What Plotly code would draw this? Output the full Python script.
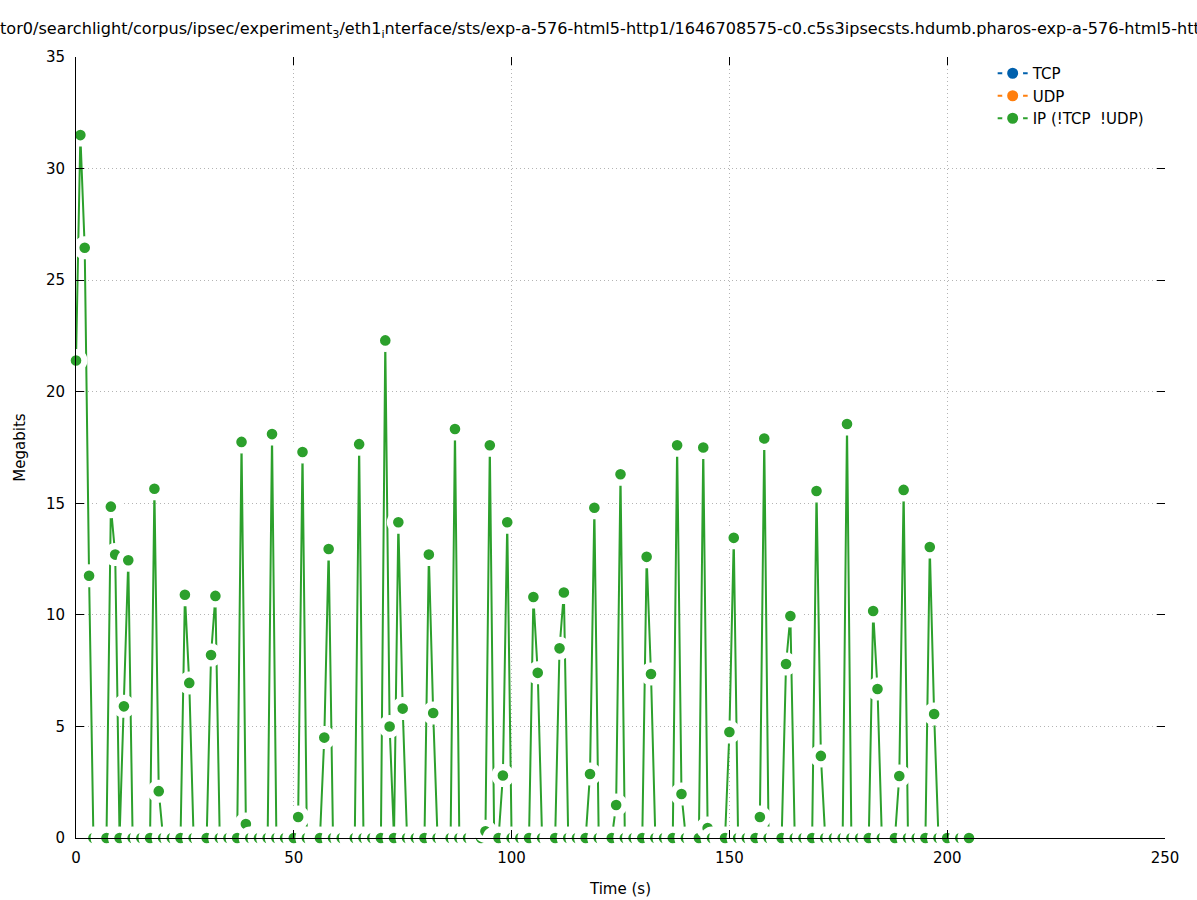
import plotly.graph_objects as go

# ---- data (time in s, IP (!TCP !UDP) traffic in Megabits) ----
time_s = [
    0, 1, 2, 3, 4, 6, 7,
    8, 9, 10, 11, 12, 13, 15, 17,
    18, 19, 20, 22, 24,
    25, 26, 27, 29, 30,
    31, 32, 33, 35, 37,
    38, 39, 40, 42, 44,
    45, 46, 48, 50,
    51, 52, 53, 55, 56,
    57, 58, 59, 61, 63, 64,
    65, 66, 68, 70,
    71, 72, 73, 74, 75, 76, 78, 80,
    81, 82, 83, 85, 86,
    87, 88, 90, 92, 93,
    94, 95, 96, 97,
    98, 99, 100, 102, 104,
    105, 106, 107, 109, 110,
    111, 112, 113, 115, 117,
    118, 119, 120, 122, 123,
    124, 125, 126, 128, 130,
    131, 132, 133, 135, 137,
    138, 139, 140, 142, 143,
    144, 145, 146, 148, 149,
    150, 151, 152, 154, 156,
    157, 158, 159, 161, 162,
    163, 164, 165, 167, 169,
    170, 171, 172, 174, 176,
    177, 178, 180, 182,
    183, 184, 185, 187, 188,
    189, 190, 191, 193, 195,
    196, 197, 198, 200, 203, 205,
]
ip_mbit = [
    21.4, 31.5, 26.45, 11.75, 0, 0, 0,
    14.85, 12.7, 0, 5.9, 12.45, 0, 0, 0,
    15.65, 2.1, 0, 0, 0,
    10.9, 6.95, 0, 0, 0,
    8.2, 10.85, 0, 0, 0,
    17.75, 0.63, 0, 0, 0,
    18.1, 0, 0, 0,
    0.94, 17.3, 0, 0, 0,
    4.5, 12.95, 0, 0, 0, 0,
    17.65, 0, 0, 0,
    22.3, 5.0, 0, 14.15, 5.8, 0, 0, 0,
    12.7, 5.6, 0, 0, 0,
    18.33, 0, 0, 0, 0,
    0.3, 17.6, 0, 0,
    2.8, 14.15, 0, 0, 0,
    10.8, 7.4, 0, 0, 0,
    8.5, 11.0, 0, 0, 0,
    2.87, 14.8, 0, 0, 0,
    1.48, 16.3, 0, 0, 0,
    12.6, 7.35, 0, 0, 0,
    17.6, 1.97, 0, 0, 0,
    17.5, 0.45, 0, 0, 0,
    4.75, 13.45, 0, 0, 0,
    0.94, 17.9, 0, 0, 0,
    7.8, 9.95, 0, 0, 0,
    15.55, 3.68, 0, 0, 0,
    18.55, 0, 0, 0,
    10.17, 6.68, 0, 0, 0,
    2.78, 15.6, 0, 0, 0,
    13.04, 5.56, 0, 0, 0, 0,
]
series_names = ["TCP", "UDP", "IP (!TCP  !UDP)"]
series_colors = ["#0060ad", "#ff7f0e", "#2ca02c"]
x_ticks = [0, 50, 100, 150, 200, 250]
y_ticks = [0, 5, 10, 15, 20, 25, 30, 35]

title_text = ("tor0/searchlight/corpus/ipsec/experiment<sub>3</sub>/eth1<sub>i</sub>nterface/sts/"
              "exp-a-576-html5-http1/1646708575-c0.c5s3ipsecsts.hdumb.pharos-exp-a-576-html5-http1.sts")

FONT = "DejaVu Sans"
FS = 15


def marker(color):
    # green dot (r~5.3px) with a wide white halo (r~11.5px), like gnuplot's blanked point box
    return dict(size=16.8, color=color, line=dict(color="white", width=6.2))


fig = go.Figure()
# TCP and UDP carry no traffic in this capture (legend entries only)
for name, color in zip(series_names[:2], series_colors[:2]):
    fig.add_trace(go.Scatter(
        x=[None], y=[None], name=name, mode="lines+markers",
        line=dict(color=color, width=2), marker=marker(color),
        xaxis="x2", yaxis="y2", hoverinfo="skip"))

fig.add_trace(go.Scatter(
    x=time_s, y=ip_mbit, name=series_names[2], mode="lines+markers",
    line=dict(color=series_colors[2], width=2), marker=marker(series_colors[2]),
    cliponaxis=False))

axis_common = dict(
    ticks="inside", ticklen=8, tickcolor="black", tickwidth=1,
    showline=True, linecolor="black", linewidth=1,
    showgrid=True, gridcolor="#b4b4b4", griddash="1px,3px", gridwidth=1,
    zeroline=False, automargin=False,
    tickfont=dict(family=FONT, size=FS, color="black"),
    title_font=dict(family=FONT, size=FS, color="black"),
)
mirror_common = dict(
    ticks="inside", ticklen=8, tickcolor="black", tickwidth=1, automargin=False,
    showticklabels=False, showgrid=False, showline=False, zeroline=False,
)

fig.update_layout(
    width=1197, height=900,
    margin=dict(l=76, r=32, t=57, b=62, autoexpand=False),
    paper_bgcolor="white", plot_bgcolor="white",
    font=dict(family=FONT, size=FS, color="black"),
    title=dict(text=title_text, x=0, xref="container", xanchor="left",
               y=0.968, yref="container", yanchor="middle", automargin=False,
               font=dict(family=FONT, size=16.1, color="black")),
    xaxis=dict(range=[0, 250], tickvals=x_ticks, ticklabelstandoff=6,
               title=dict(text="Time (s)", standoff=17), **axis_common),
    yaxis=dict(range=[0, 35], tickvals=y_ticks, ticklabelstandoff=7,
               title=dict(text="Megabits", standoff=16), **axis_common),
    xaxis2=dict(overlaying="x", matches="x", side="top", tickvals=x_ticks,
                range=[0, 250], **mirror_common),
    yaxis2=dict(overlaying="y", matches="y", side="right", tickvals=y_ticks,
                range=[0, 35], **mirror_common),
    legend=dict(x=0.985, xanchor="right", y=1.0, yanchor="top",
                bgcolor="rgba(255,255,255,0)", traceorder="normal",
                font=dict(family=FONT, size=FS, color="black"),
                tracegroupgap=0),
    showlegend=True,
)

fig.write_html("out.html",
               config={"displayModeBar": False},
               post_script="document.body.style.margin='0px';"
                           "document.body.style.overflow='hidden';")
